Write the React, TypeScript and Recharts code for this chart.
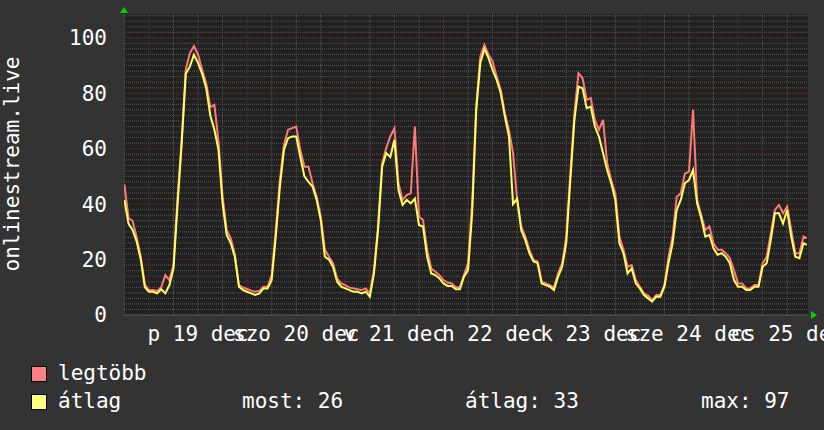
import React from "react";
import {
  LineChart,
  Line,
  XAxis,
  YAxis,
  ReferenceLine,
  ReferenceDot,
} from "recharts";

// hours since 19 dec 00:00
const hours = [
  -6, -5, -4, -3, -2, -1, 0, 1, 2, 3, 4, 5, 6, 7, 8, 9, 10, 11, 12, 13, 14, 15, 16, 17, 18, 19,
  20, 21, 22, 23, 24, 25, 26, 27, 28, 29, 30, 31, 32, 33, 34, 35, 36, 37, 38, 39, 40, 41, 42, 43,
  44, 45, 46, 47, 48, 49, 50, 51, 52, 53, 54, 55, 56, 57, 58, 59, 60, 61, 62, 63, 64, 65, 66, 67,
  68, 69, 70, 71, 72, 73, 74, 75, 76, 77, 78, 79, 80, 81, 82, 83, 84, 85, 86, 87, 88, 89, 90, 91,
  92, 93, 94, 95, 96, 97, 98, 99, 100, 101, 102, 103, 104, 105, 106, 107, 108, 109, 110, 111, 112,
  113, 114, 115, 116, 117, 118, 119, 120, 121, 122, 123, 124, 125, 126, 127, 128, 129, 130, 131,
  132, 133, 134, 135, 136, 137, 138, 139, 140, 141, 142, 143, 144, 145, 146, 147, 148, 149, 150,
  151, 152, 153, 154, 155, 156, 157, 158, 159, 160, 160.8,
];

// legtöbb (max)
const maxVals = [
  47, 35, 34, 28, 21, 11, 9, 9, 8.7, 10, 14.4, 12.6, 18, 42.7, 63, 88.5, 94.5, 97, 94, 88.5, 83.6,
  75, 75.8, 62.6, 42.7, 30.7, 27.7, 21.7, 10.8, 9.9, 9.4, 8.8, 8.4, 8.8, 10.2, 10.2, 14.4, 30.7,
  48.7, 61.4, 66.8, 67.4, 68, 59.6, 53.5, 53.5, 47.5, 42.7, 35.5, 23.5, 21, 18.6, 13.2, 11.4, 10.8,
  9.9, 9.6, 9.3, 9, 9.6, 7.8, 16.2, 32, 54.8, 60.2, 64.4, 67.4, 47.5, 41.5, 43.3, 43.9, 68, 35.5,
  34.3, 23.5, 16.8, 15.6, 14.4, 12.6, 11.7, 11.4, 10, 10, 14.4, 18.6, 40.3, 75.2, 93.3, 97.5, 93.9,
  91.5, 86, 81.2, 72.8, 66.8, 58.4, 41.5, 31.9, 28.3, 23.5, 19.9, 19.3, 12, 11.4, 10.8, 9.9, 15,
  18.6, 28.3, 51, 72.8, 87.2, 85.4, 77.6, 78.2, 70.4, 66.8, 70.4, 54.8, 48.7, 43.9, 28.3, 23.5,
  17.4, 18, 12.6, 10.2, 7.8, 7, 5.4, 7.2, 7.2, 10.8, 21, 28.3, 42.7, 43.9, 51, 51.7, 74, 41.5,
  36.1, 30.7, 32, 25.9, 23.5, 23.5, 22.3, 20.5, 16.2, 11.4, 11.4, 9.6, 9.6, 10.8, 10.8, 18.6, 21,
  29.5, 37.9, 39.7, 36.7, 39.1, 30.7, 22.3, 22.3, 28.3, 27.7,
];

// átlag (average)
const avgVals = [
  41.5, 33, 30.7, 26.5, 20, 10, 8.4, 8.4, 7.8, 9.3, 7.8, 10.8, 16.8, 40, 62, 87, 89.6, 93.9, 91,
  87, 81.8, 72, 66.8, 59.6, 40.3, 28.9, 25.9, 21, 10.2, 9, 8.4, 7.8, 7.2, 7.8, 9.6, 9.6, 12.6, 28.3,
  46.3, 59.6, 63.8, 64.4, 64.4, 57, 50, 48, 46.3, 41.5, 34.3, 21, 20, 17.4, 12, 10.2, 9.6, 9, 8.4,
  8.4, 7.8, 8.4, 6.6, 15, 30.7, 53.5, 58.4, 57, 63.2, 45, 39.7, 41.5, 40.3, 42, 32.5, 31.9, 21, 15,
  14.4, 13.2, 11.4, 10.5, 10.5, 9.3, 9.3, 13.8, 16.2, 36.7, 74, 90.9, 96, 92.7, 88.4, 84.8, 80,
  71.6, 64.4, 40, 42, 30.7, 27, 22.3, 19.3, 18.7, 11.4, 10.8, 10.2, 9, 13.8, 17.4, 25.9, 48.7,
  70.4, 82.4, 81.8, 74.6, 75.2, 68, 64.4, 58.4, 52.3, 47.5, 41.5, 25.9, 22.3, 15, 16.8, 11.4, 9.6,
  7.2, 6, 4.8, 6.6, 6.6, 10.2, 18.7, 25.9, 37.9, 41.5, 47.5, 48.7, 52.3, 40.3, 34.9, 28.3, 28.9,
  24.1, 21.7, 22.3, 21, 18.7, 12.6, 10.2, 10.2, 9, 9, 10.2, 10.2, 17.4, 18.7, 27, 36.7, 36.7, 33,
  37.9, 28.3, 21, 20.5, 25.9, 25.3,
];

const dayTicks = [12, 36, 60, 84, 108, 132, 156];
const dayLabels = ["p 19 dec", "szo 20 dec", "v 21 dec", "h 22 dec", "k 23 dec", "sze 24 dec", "cs 25 dec"];
const yTicks = [0, 20, 40, 60, 80, 100];

const X_MIN = -6.1;
const X_MAX = 161.1;
const Y_MAX = 108.6;

const data = hours.map((t, i) => ({ t, max: maxVals[i], avg: avgVals[i] }));

const minorX: number[] = [];
for (let h = -6; h <= 156; h += 6) if (h % 24 !== 0) minorX.push(h);
const majorX = [0, 24, 48, 72, 96, 120, 144];
const minorY: number[] = [];
for (let v = 2; v <= 108; v += 2) if (v % 20 !== 0) minorY.push(v);
const majorY = [20, 40, 60, 80, 100];

const FONT = "'DejaVu Sans Mono', monospace";
const GRID_GRAY = "#565656";
const GRID_RED = "#6c2c2c";

const labelFor = (v: number) => dayLabels[dayTicks.indexOf(v)] ?? "";

const UpArrow = (p: any) => (
  <polygon points={`${p.cx - 4},${p.cy - 1} ${p.cx + 4},${p.cy - 1} ${p.cx},${p.cy - 7}`} fill="#00d000" />
);
const RightArrow = (p: any) => (
  <polygon points={`${p.cx + 3},${p.cy - 4} ${p.cx + 3},${p.cy + 4} ${p.cx + 9},${p.cy}`} fill="#00d000" />
);

const Swatch = ({ color }: { color: string }) => (
  <span
    style={{
      position: "absolute",
      left: 31,
      width: 14,
      height: 14,
      background: color,
      border: "1px solid #000",
    }}
  />
);

const App: React.FC = () => {
  return (
    <div
      style={{
        position: "absolute",
        left: 0,
        top: 0,
        width: 824,
        height: 430,
        background: "#333333",
        fontFamily: FONT,
        color: "#ffffff",
        overflow: "hidden",
      }}
    >
      <div
        style={{
          position: "absolute",
          left: 12,
          top: 164,
          transform: "translate(-50%, -50%) rotate(-90deg)",
          fontSize: 21,
          whiteSpace: "nowrap",
          lineHeight: 1,
        }}
      >
        onlinestream.live
      </div>

      <LineChart
        width={824}
        height={430}
        data={data}
        margin={{ top: 14, right: 16, left: 0, bottom: 0 }}
        style={{ position: "absolute", left: 0, top: 0 }}
      >
        <rect x={124} y={14} width={684} height={301} fill="#212121" />
        <XAxis
          dataKey="t"
          type="number"
          domain={[X_MIN, X_MAX]}
          allowDataOverflow
          ticks={dayTicks}
          interval={0}
          tickFormatter={labelFor}
          height={115}
          tickSize={0}
          tickMargin={11}
          tickLine={false}
          axisLine={{ stroke: "#5e5e5e" }}
          tick={{ fill: "#ffffff", fontSize: 21, fontFamily: FONT }}
        />
        <YAxis
          type="number"
          domain={[0, Y_MAX]}
          allowDataOverflow
          ticks={yTicks}
          interval={0}
          width={124}
          tickSize={0}
          tickMargin={17}
          tickLine={false}
          axisLine={false}
          tick={{ fill: "#ffffff", fontSize: 21, fontFamily: FONT }}
        />
        {minorY.map((v) => (
          <ReferenceLine key={`my${v}`} y={v} stroke={GRID_GRAY} strokeDasharray="1 1" />
        ))}
        {minorX.map((v) => (
          <ReferenceLine key={`mx${v}`} x={v} stroke={GRID_GRAY} strokeDasharray="1 1" />
        ))}
        {majorY.map((v) => (
          <ReferenceLine key={`My${v}`} y={v} stroke={GRID_RED} strokeDasharray="1 1" />
        ))}
        {majorX.map((v) => (
          <ReferenceLine key={`Mx${v}`} x={v} stroke={GRID_RED} strokeDasharray="1 1" />
        ))}
        <Line
          type="linear"
          dataKey="max"
          stroke="#ff7878"
          strokeWidth={2}
          dot={false}
          isAnimationActive={false}
        />
        <Line
          type="linear"
          dataKey="avg"
          stroke="#ffff5c"
          strokeWidth={2}
          dot={false}
          isAnimationActive={false}
        />
        <ReferenceDot x={X_MIN} y={Y_MAX} r={0} shape={UpArrow} ifOverflow="visible" />
        <ReferenceDot x={X_MAX} y={0} r={0} shape={RightArrow} ifOverflow="visible" />
      </LineChart>

      <div style={{ position: "absolute", left: 0, top: 0, fontSize: 21, lineHeight: 1 }}>
        <div style={{ position: "absolute", top: 366, left: 0, width: 824 }}>
          <Swatch color="#ff8080" />
          <span style={{ position: "absolute", left: 58, top: -3, whiteSpace: "nowrap" }}>legtöbb</span>
        </div>
        <div style={{ position: "absolute", top: 394, left: 0, width: 824 }}>
          <Swatch color="#ffff80" />
          <span style={{ position: "absolute", left: 58, top: -3, whiteSpace: "nowrap" }}>átlag</span>
          <span style={{ position: "absolute", left: 242, top: -3, whiteSpace: "nowrap" }}>most: 26</span>
          <span style={{ position: "absolute", left: 465, top: -3, whiteSpace: "nowrap" }}>átlag: 33</span>
          <span style={{ position: "absolute", left: 701, top: -3, whiteSpace: "nowrap" }}>max: 97</span>
        </div>
      </div>
    </div>
  );
};

export default App;
